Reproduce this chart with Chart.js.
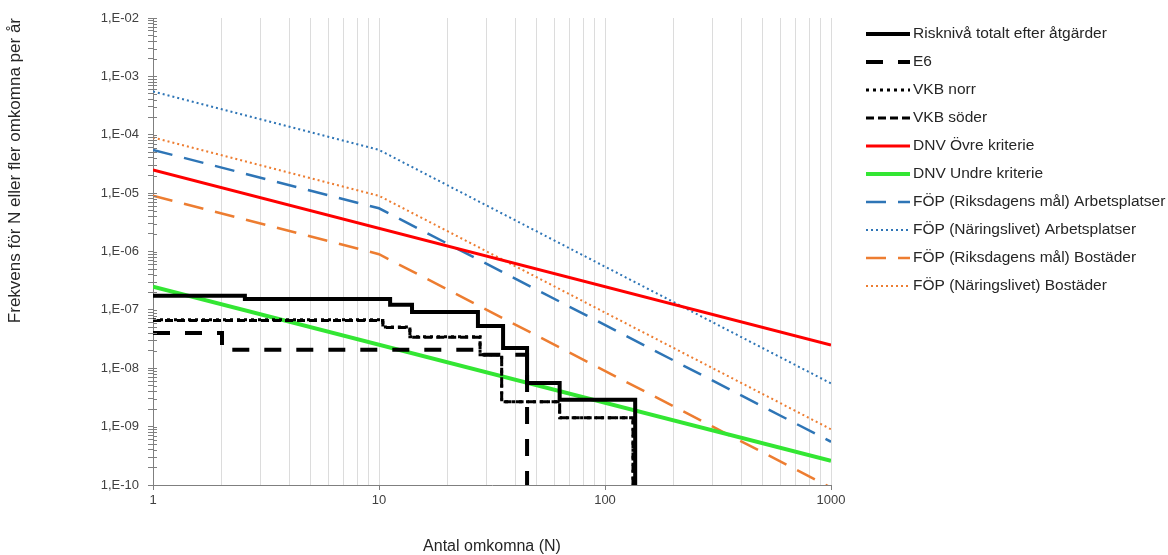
<!DOCTYPE html>
<html>
<head>
<meta charset="utf-8">
<script src="https://cdn.jsdelivr.net/npm/chart.js@4/dist/chart.umd.min.js"></script>
<style>
    html, body { margin: 0; padding: 0; background: #fff; }
    #wrap { width: 1168px; height: 555px; }
</style>
</head>
<body>
<div id="wrap"><canvas id="fnChart"></canvas></div>
<script>
// Axis decades (tick labels only on these)
const xDecades = [1, 10, 100, 1000];
const yDecades = [1e-10, 1e-9, 1e-8, 1e-7, 1e-6, 1e-5, 1e-4, 1e-3, 1e-2];

// Step curves: N where each level starts, and the level (F) from there on
const riskN = [1, 2.55, 11.2, 14, 27.4, 35.4, 45.2, 63, 136];
const riskF = [1.74e-7, 1.54e-7, 1.22e-7, 9.2e-8, 5.3e-8, 2.23e-8, 5.6e-9, 2.9e-9, 1e-11];

const e6N = [1, 2.02, 27.9, 45.2];
const e6F = [4.0e-8, 2.07e-8, 1.7e-8, 1e-11];

const vkbNorrN = [1, 10.4, 13.7, 28.0, 34.9, 63.0, 133];
const vkbNorrF = [6.75e-8, 5.1e-8, 3.45e-8, 1.7e-8, 2.66e-9, 1.42e-9, 1e-11];

const vkbSoderN = [1, 10.4, 13.7, 28.0, 34.9, 63.0, 133];
const vkbSoderF = [6.6e-8, 5.0e-8, 3.4e-8, 1.7e-8, 2.66e-9, 1.42e-9, 1e-11];

// Criteria lines
const dnvN = [1, 1000];
const dnvUpperF = [2.5e-5, 2.5e-8];
const dnvLowerF = [2.5e-7, 2.6e-10];

const fopN = [1, 10, 1000];
const fopRiksArbF = [5.5e-5, 5.5e-6, 5.5e-10];
const fopNarArbF = [5.5e-4, 5.5e-5, 5.5e-9];
const fopRiksBostF = [9e-6, 9e-7, 9e-11];
const fopNarBostF = [9e-5, 9e-6, 9e-10];

const FONT = "'Liberation Sans', Arial, sans-serif";
Chart.defaults.font.family = FONT;

function pts(ns, fs) {
    return ns.map((n, i) => ({ x: n, y: fs[i] }));
}

// all 1..9 x 10^n positions between the first and last decade
function logTicks(decades) {
    const out = [];
    decades.forEach((d, i) => {
        if (i === decades.length - 1) { out.push(d); return; }
        for (let k = 1; k <= 9; k++) out.push(+(k * d).toPrecision(3));
    });
    return out;
}

function isDecade(v) {
    const e = Math.log10(v);
    return Math.abs(e - Math.round(e)) < 1e-6;
}

function fmtExp(v) {
    const e = Math.round(Math.log10(v));
    return '1,E' + (e < 0 ? '-' : '+') + String(Math.abs(e)).padStart(2, '0');
}

function line(label, data, color, width, dash, stepped) {
    return {
        label: label,
        data: data,
        borderColor: color,
        backgroundColor: color,
        borderWidth: width,
        borderDash: dash,
        stepped: stepped,
        pointRadius: 0,
        fill: false,
        tension: 0
    };
}

// Legend on the right, drawn with each dataset's own line style
const sideLegend = {
    id: 'sideLegend',
    afterDraw(chart) {
        const ctx = chart.ctx;
        const x0 = chart.chartArea.right + 35;
        ctx.save();
        chart.data.datasets.forEach((ds, i) => {
            const y = 34 + i * 28;
            ctx.beginPath();
            ctx.strokeStyle = ds.borderColor;
            ctx.lineWidth = ds.borderWidth;
            ctx.setLineDash(ds.borderDash || []);
            ctx.moveTo(x0, y);
            ctx.lineTo(x0 + 44, y);
            ctx.stroke();
            ctx.setLineDash([]);
            ctx.fillStyle = '#262626';
            ctx.font = '15.5px ' + FONT;
            ctx.textBaseline = 'middle';
            ctx.fillText(ds.label, x0 + 47, y);
        });
        ctx.restore();
    }
};

// small inner half of the y-axis tick marks (the axis ticks cross the line)
const innerTicks = {
    id: 'innerTicks',
    afterDatasetsDraw(chart) {
        const y = chart.scales.y;
        const ctx = chart.ctx;
        ctx.save();
        ctx.strokeStyle = '#7f7f7f';
        ctx.lineWidth = 1;
        ctx.beginPath();
        y.ticks.forEach(t => {
            const py = Math.round(y.getPixelForValue(t.value)) + 0.5;
            ctx.moveTo(y.right, py);
            ctx.lineTo(y.right + 4, py);
        });
        ctx.stroke();
        ctx.restore();
    }
};

const ctx = document.getElementById('fnChart').getContext('2d');
new Chart(ctx, {
    type: 'line',
    data: {
        datasets: [
            line('Risknivå totalt efter åtgärder', pts(riskN, riskF), '#000000', 4, [], true),
            line('E6', pts(e6N, e6F), '#000000', 4, [17, 15], true),
            line('VKB norr', pts(vkbNorrN, vkbNorrF), '#000000', 3, [3, 4], true),
            line('VKB söder', pts(vkbSoderN, vkbSoderF), '#000000', 3, [8, 4], true),
            line('DNV Övre kriterie', pts(dnvN, dnvUpperF), '#ff0000', 3, [], false),
            line('DNV Undre kriterie', pts(dnvN, dnvLowerF), '#33e633', 4, [], false),
            line('FÖP (Riksdagens mål) Arbetsplatser', pts(fopN, fopRiksArbF), '#2e75b6', 2.5, [20, 12], false),
            line('FÖP (Näringslivet) Arbetsplatser', pts(fopN, fopNarArbF), '#2e75b6', 2, [2, 3], false),
            line('FÖP (Riksdagens mål) Bostäder', pts(fopN, fopRiksBostF), '#ed7d31', 2.5, [20, 12], false),
            line('FÖP (Näringslivet) Bostäder', pts(fopN, fopNarBostF), '#ed7d31', 2, [2, 3], false)
        ]
    },
    options: {
        responsive: true,
        maintainAspectRatio: false,
        animation: false,
        layout: { padding: { left: 0, top: 18, right: 337, bottom: 0 } },
        plugins: {
            legend: { display: false },
            tooltip: { enabled: false }
        },
        scales: {
            x: {
                type: 'logarithmic',
                min: 1,
                max: 1000,
                afterBuildTicks: scale => { scale.ticks = logTicks(xDecades).map(v => ({ value: v })); },
                afterFit: scale => { scale.height = 70; },
                ticks: {
                    autoSkip: false,
                    maxRotation: 0,
                    padding: 3,
                    color: '#404040',
                    font: { size: 13 },
                    callback: v => xDecades.includes(v) ? String(v) : ''
                },
                grid: {
                    color: c => (c.tick && c.tick.value === 1) ? 'rgba(0,0,0,0)' : '#dcdcdc',
                    tickColor: c => (c.tick && isDecade(c.tick.value)) ? '#7f7f7f' : 'rgba(0,0,0,0)',
                    tickLength: 5
                },
                border: { color: '#7f7f7f', width: 1 },
                title: {
                    display: true,
                    text: 'Antal omkomna (N)',
                    color: '#262626',
                    font: { size: 16, lineHeight: 1 },
                    padding: { top: 0, bottom: 0 }
                }
            },
            y: {
                type: 'logarithmic',
                min: 1e-10,
                max: 1e-2,
                afterBuildTicks: scale => { scale.ticks = logTicks(yDecades).map(v => ({ value: v })); },
                afterFit: scale => { scale.width = 153; },
                ticks: {
                    autoSkip: false,
                    padding: 9,
                    color: '#404040',
                    font: { size: 13 },
                    callback: v => isDecade(v) ? fmtExp(v) : ''
                },
                grid: {
                    drawOnChartArea: false,
                    tickColor: '#7f7f7f',
                    tickLength: 5
                },
                border: { color: '#7f7f7f', width: 1 },
                title: {
                    display: true,
                    text: 'Frekvens för N eller fler omkomna per år',
                    align: 'end',
                    color: '#262626',
                    font: { size: 17 },
                    padding: { top: 5, bottom: 0 }
                }
            }
        }
    },
    plugins: [sideLegend, innerTicks]
});
</script>
</body>
</html>
